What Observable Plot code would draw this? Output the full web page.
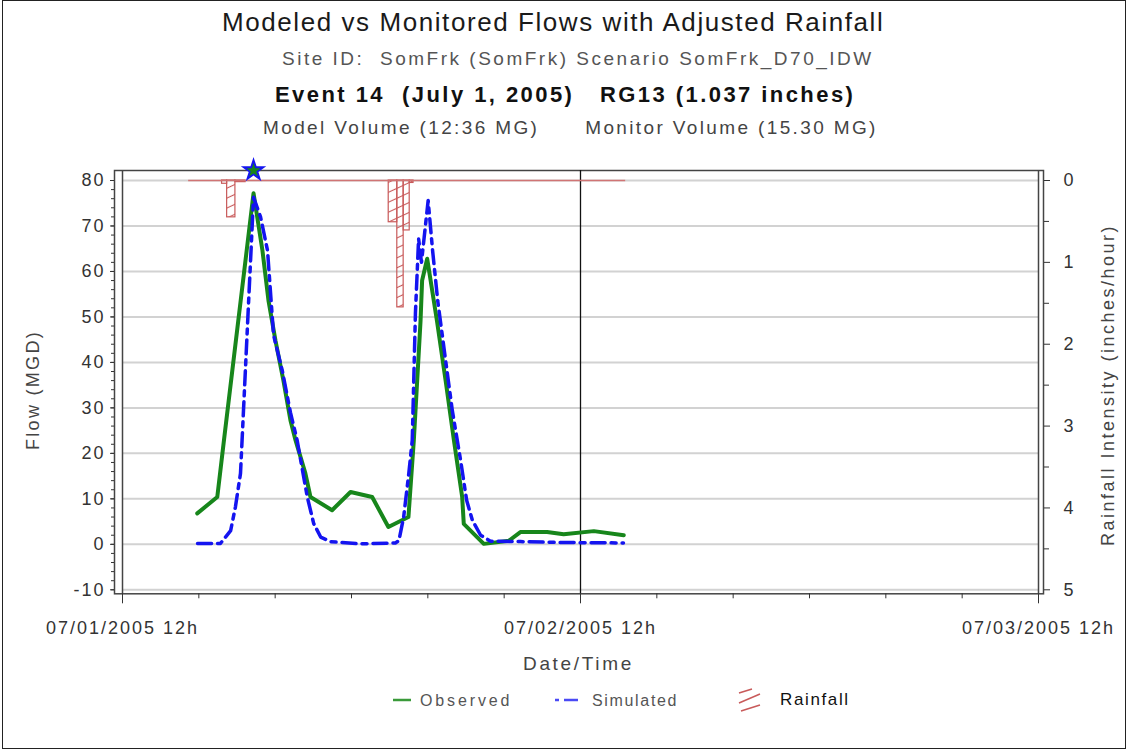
<!DOCTYPE html>
<html>
<head>
<meta charset="utf-8">
<script src="https://cdn.jsdelivr.net/npm/d3@7"></script>
<script src="https://cdn.jsdelivr.net/npm/@observablehq/plot@0.6"></script>
<style>
  html, body { margin: 0; padding: 0; background: #fff; }
  #chart { position: relative; width: 1128px; height: 752px; overflow: hidden;
           font-family: "Liberation Sans", Arial, sans-serif; background: #fff; }
  #border { position: absolute; left: 2px; top: 0px; width: 1124px; height: 749px; z-index: 10;
            box-sizing: border-box; border: 1.5px solid #222; pointer-events: none; }
  .t { position: absolute; white-space: pre; line-height: 1; }
  .layer { position: absolute; left: 0; top: 150px; }
  .legend-icon { position: absolute; }
</style>
</head>
<body>
<div id="chart"><div id="border"></div></div>
<script>
// ---------------- data ----------------
const titleText = "Modeled vs Monitored Flows with Adjusted Rainfall";
const siteText = "Site ID:  SomFrk (SomFrk) Scenario SomFrk_D70_IDW";
const eventText = "Event 14  (July 1, 2005)   RG13 (1.037 inches)";
const volumeText = "Model Volume (12:36 MG)      Monitor Volume (15.30 MG)";

const obsTimes = [
  "2005-07-01T15:55","2005-07-01T16:58","2005-07-01T17:19","2005-07-01T18:52",
  "2005-07-01T19:20","2005-07-01T19:39","2005-07-01T20:01","2005-07-01T20:26",
  "2005-07-01T20:48","2005-07-01T21:04","2005-07-01T21:35","2005-07-01T21:51",
  "2005-07-01T22:59","2005-07-01T23:57","2005-07-02T01:05","2005-07-02T01:56",
  "2005-07-02T02:59","2005-07-02T03:16","2005-07-02T03:37","2005-07-02T03:42",
  "2005-07-02T03:58","2005-07-02T04:29","2005-07-02T04:56","2005-07-02T05:22",
  "2005-07-02T05:48","2005-07-02T05:53","2005-07-02T06:56","2005-07-02T08:15",
  "2005-07-02T08:51","2005-07-02T10:15","2005-07-02T11:07","2005-07-02T12:42",
  "2005-07-02T14:16"
];
const obsFlow = [
  6.8, 10.4, 22.9, 77.2,
  64.6, 53.6, 44.8, 36,
  27.3, 22.9, 15.6, 10.4,
  7.5, 11.5, 10.4, 3.8,
  6.0, 22.9, 49, 58,
  62.8, 49, 36, 22.9,
  10.4, 4.5, 0.1, 0.8,
  2.7, 2.7, 2.2, 2.9,
  2.0
];

const simTimes = [
  "2005-07-01T15:56","2005-07-01T17:08","2005-07-01T17:40","2005-07-01T17:55",
  "2005-07-01T18:11","2005-07-01T18:16","2005-07-01T18:52","2005-07-01T19:14",
  "2005-07-01T19:36","2005-07-01T19:55","2005-07-01T20:23","2005-07-01T20:48",
  "2005-07-01T21:09","2005-07-01T21:41","2005-07-01T22:01","2005-07-01T22:23",
  "2005-07-01T22:54","2005-07-02T00:28","2005-07-02T02:18","2005-07-02T02:29",
  "2005-07-02T02:44","2005-07-02T03:00","2005-07-02T03:11","2005-07-02T03:21",
  "2005-07-02T03:31","2005-07-02T03:40","2005-07-02T04:01","2005-07-02T04:15",
  "2005-07-02T04:31","2005-07-02T04:56","2005-07-02T05:17","2005-07-02T05:43",
  "2005-07-02T06:02","2005-07-02T06:20","2005-07-02T06:46","2005-07-02T07:17",
  "2005-07-02T08:51","2005-07-02T10:57","2005-07-02T14:15"
];
const simFlow = [
  0.2, 0.2, 3, 8.2,
  15.6, 22.9, 76.3, 72,
  64.6, 46, 38, 29,
  22.9, 10.4, 4.6, 1.6,
  0.6, 0.1, 0.3, 0.8,
  6, 15.5, 22.9, 50.8,
  67.2, 62, 75.6, 64.6,
  53.6, 40.4, 29.4, 18.5,
  9.7, 5.3, 2.0, 0.7,
  0.6, 0.4, 0.3
];

const rainStart = ["2005-07-01T17:13","2005-07-01T17:29","2005-07-01T17:55",
                   "2005-07-02T01:57","2005-07-02T02:24","2005-07-02T02:44","2005-07-02T03:03"];
const rainEnd   = ["2005-07-01T17:29","2005-07-01T17:55","2005-07-01T18:27",
                   "2005-07-02T02:24","2005-07-02T02:44","2005-07-02T03:03","2005-07-02T03:15"];
const rainIntensity = [0.04, 0.45, 0.02, 0.51, 1.55, 0.61, 0.03];
const rainSpan = ["2005-07-01T15:28", "2005-07-02T14:22"];

const flowTicks = [-10, 0, 10, 20, 30, 40, 50, 60, 70, 80];
const rainTicks = [0, 1, 2, 3, 4, 5];
const xTickTimes = ["2005-07-01T12:00", "2005-07-02T12:00", "2005-07-03T12:00"];
const xTickLabels = ["07/01/2005 12h", "07/02/2005 12h", "07/03/2005 12h"];

const legendLabels = ["Observed", "Simulated", "Rainfall"];
const axisTitles = { flow: "Flow (MGD)", rain: "Rainfall Intensity (inches/hour)", x: "Date/Time" };

// ---------------- build ----------------
const parse = d3.utcParse("%Y-%m-%dT%H:%M");
const obs = obsTimes.map((t, i) => ({ time: parse(t), flow: obsFlow[i] }));
const sim = simTimes.map((t, i) => ({ time: parse(t), flow: simFlow[i] }));
const rain = rainStart.map((t, i) => ({ start: parse(t), end: parse(rainEnd[i]), intensity: rainIntensity[i] }));
const xTicks = xTickTimes.map(parse);
const xLabelMap = new Map(xTicks.map((d, i) => [+d, xTickLabels[i]]));
const xDomain = [xTicks[0], xTicks[xTicks.length - 1]];
const minorX = d3.utcHour.every(4).range(xDomain[0], xDomain[1]).filter(d => d.getUTCHours() !== 12);
const minorFlow = d3.range(-10, 81, 2);
const minorRain = d3.range(0.5, 5, 1);
const peak = d3.greatest(obs, d => d.flow);

const COLORS = { obs: "#17861b", sim: "#1414f0", rain: "#c85a5a", grid: "#d2d2d2", frame: "#444" };
const W = 1128, H = 530;
const margins = { marginLeft: 114, marginRight: 85, marginTop: 20, marginBottom: 86.7 };
const baseStyle = { fontFamily: "'Liberation Sans', Arial, sans-serif", fontSize: "18px",
                    letterSpacing: "2px", color: "#333", overflow: "visible" };
const xScale = { type: "utc", domain: xDomain, insetLeft: 8, insetRight: 5, label: null };

const flowPlot = Plot.plot({
  width: W, height: H, ...margins,
  x: xScale,
  y: { domain: [-10, 80], insetTop: 10, insetBottom: 4, label: null },
  style: { ...baseStyle, background: "white" },
  marks: [
    Plot.ruleY(flowTicks, { x1: () => xDomain[0], x2: () => xDomain[1], stroke: COLORS.grid, strokeWidth: 2 }),
    Plot.frame({ stroke: COLORS.frame, strokeWidth: 1.5 }),
    Plot.ruleX(xDomain, { stroke: COLORS.frame, strokeWidth: 1.5 }),
    Plot.ruleX([xTicks[1]], { stroke: "#111", strokeWidth: 1.3 }),
    Plot.axisY(minorFlow, { anchor: "left", tickSize: 3, tickFormat: () => "" }),
    Plot.axisY(flowTicks, { anchor: "left", tickSize: 4, tickPadding: 5, tickFormat: d => String(d) }),
    Plot.axisX(minorX, { anchor: "bottom", tickSize: 5, tickFormat: () => "" }),
    Plot.axisX(xTicks, { anchor: "bottom", tickSize: 10, tickPadding: 17, tickFormat: d => xLabelMap.get(+d) }),
    Plot.line(obs, { x: "time", y: "flow", stroke: COLORS.obs, strokeWidth: 4, strokeLinejoin: "round" }),
    Plot.line(sim, { x: "time", y: "flow", stroke: COLORS.sim, strokeWidth: 3.5, strokeDasharray: "14,6,5,6" })
  ]
});

const rainPlot = Plot.plot({
  width: W, height: H, ...margins,
  x: { ...xScale, axis: null },
  y: { domain: [0, 5], reverse: true, insetTop: 10, insetBottom: 4, label: null },
  style: { ...baseStyle, background: "transparent" },
  marks: [
    Plot.rect(rain, { x1: "start", x2: "end", y1: () => 0, y2: "intensity",
                      fill: "url(#rainHatch)", stroke: COLORS.rain, strokeWidth: 1.2 }),
    Plot.ruleY([0], { x1: () => parse(rainSpan[0]), x2: () => parse(rainSpan[1]), stroke: "#d07474", strokeWidth: 1.6 }),
    Plot.axisY(minorRain, { anchor: "right", tickSize: 5, tickFormat: () => "" }),
    Plot.axisY(rainTicks, { anchor: "right", tickSize: 6, tickPadding: 14, tickFormat: d => String(d) }),
    Plot.dot([peak], { x: "time", frameAnchor: "top", symbol: "star", r: 8, fill: COLORS.sim }),
    Plot.dot([peak], { x: "time", frameAnchor: "top", symbol: "star", r: 4.5, fill: COLORS.obs })
  ]
});

const defs = document.createElementNS("http://www.w3.org/2000/svg", "defs");
defs.innerHTML = `<pattern id="rainHatch" patternUnits="userSpaceOnUse" width="9" height="9" patternTransform="rotate(-25)">
  <line x1="0" y1="4.5" x2="9" y2="4.5" stroke="${COLORS.rain}" stroke-width="1.1"/></pattern>`;
rainPlot.prepend(defs);

const chart = document.getElementById("chart");
for (const svg of [flowPlot, rainPlot]) {
  const wrap = document.createElement("div");
  wrap.className = "layer";
  wrap.appendChild(svg);
  chart.appendChild(wrap);
}

// text helper: fits letter-spacing so the text spans a target width
function addText(text, o) {
  const el = document.createElement("div");
  el.className = "t";
  el.textContent = text;
  el.style.fontSize = o.size + "px";
  el.style.fontWeight = o.bold ? "bold" : "normal";
  el.style.color = o.color || "#333";
  chart.appendChild(el);
  const w0 = el.offsetWidth;
  el.style.letterSpacing = ((o.w - w0) / text.length) + "px";
  if (o.rotate) {
    el.style.left = o.cx + "px"; el.style.top = o.cy + "px";
    el.style.transform = "translate(-50%,-50%) rotate(-90deg)";
  } else {
    el.style.left = o.x + "px"; el.style.top = o.cy + "px";
    el.style.transform = "translateY(-50%)";
  }
  return el;
}

addText(titleText,  { x: 222, cy: 22,  w: 662, size: 26, color: "#1a1a1a" });
addText(siteText,   { x: 282, cy: 58,  w: 592, size: 19, color: "#555" });
addText(eventText,  { x: 275, cy: 95,  w: 580, size: 22, bold: true, color: "#111" });
addText(volumeText, { x: 263, cy: 127, w: 615, size: 19, color: "#444" });

addText(axisTitles.flow, { rotate: true, cx: 33, cy: 390, w: 120, size: 18, color: "#444" });
addText(axisTitles.rain, { rotate: true, cx: 1108, cy: 385, w: 322, size: 18, color: "#444" });
addText(axisTitles.x,    { x: 523, cy: 663, w: 111, size: 19, color: "#444" });

// legend
addText(legendLabels[0], { x: 420, cy: 701, w: 92, size: 16, color: "#555" });
addText(legendLabels[1], { x: 592, cy: 701, w: 86, size: 16, color: "#555" });
addText(legendLabels[2], { x: 780, cy: 699, w: 70, size: 17, color: "#111" });

function icon(x, y, w, h, inner) {
  const d = document.createElement("div");
  d.className = "legend-icon";
  d.style.left = x + "px"; d.style.top = y + "px";
  d.innerHTML = `<svg width="${w}" height="${h}" viewBox="0 0 ${w} ${h}">${inner}</svg>`;
  chart.appendChild(d);
}
icon(391, 690, 22, 20, `<line x1="2" y1="10" x2="20" y2="10" stroke="#3a9a3a" stroke-width="2.5"/>`);
icon(553, 690, 28, 20, `<line x1="2" y1="10" x2="6" y2="10" stroke="#4a4af5" stroke-width="2.5"/>
  <line x1="11" y1="10" x2="25" y2="10" stroke="#4a4af5" stroke-width="2.5"/>`);
icon(735, 686, 28, 28, `<g stroke="${COLORS.rain}" stroke-width="1.5" fill="none">
  <line x1="4" y1="7" x2="17" y2="3"/><line x1="4" y1="17" x2="25" y2="8"/><line x1="6" y1="25" x2="25" y2="19"/></g>`);
</script>
</body>
</html>
